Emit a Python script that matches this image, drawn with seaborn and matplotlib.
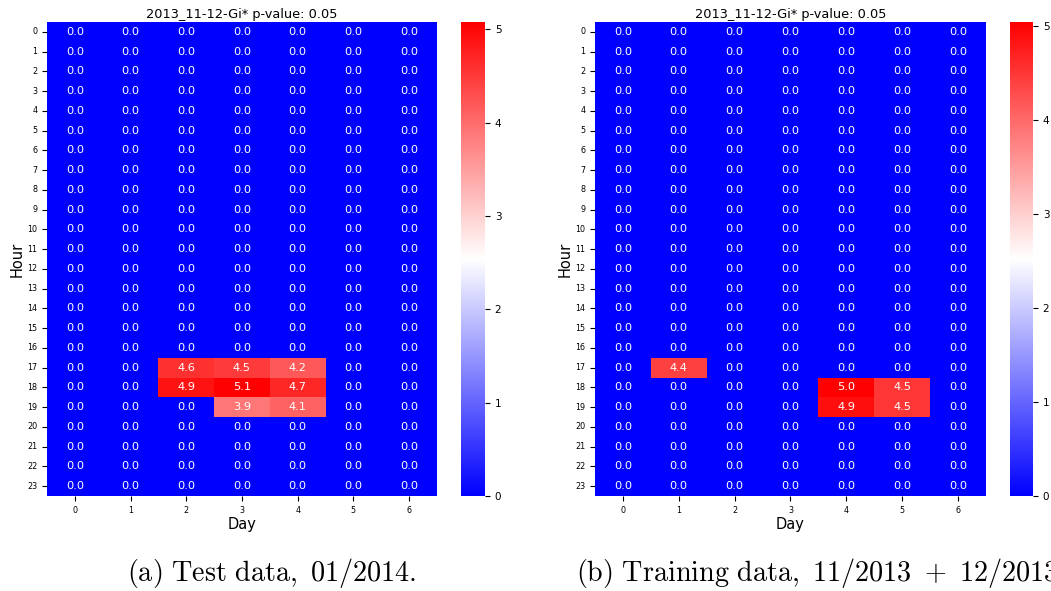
import numpy as np
import pandas as pd
import matplotlib
matplotlib.use("Agg")
import matplotlib.pyplot as plt
import seaborn as sns

plt.rcParams['mathtext.fontset'] = 'cm'

hours = list(range(24))
days = list(range(7))

title_a = "2013_11-12-Gi* p-value: 0.05"
title_b = "2013_11-12-Gi* p-value: 0.05"
caption_a = r"$\mathrm{(a)\ Test\ data,\ 01/2014.}$"
caption_b = r"$\mathrm{(b)\ Training\ data,\ 11/2013\ +\ 12/2013.}$"

# Non-zero cells (hour, day, value); all other cells are 0.0
test_hours = [17, 17, 17, 18, 18, 18, 19, 19]
test_days = [2, 3, 4, 2, 3, 4, 3, 4]
test_vals = [4.6, 4.5, 4.2, 4.9, 5.08, 4.7, 3.9, 4.1]

train_hours = [17, 18, 18, 19, 19]
train_days = [1, 4, 5, 4, 5]
train_vals = [4.4, 5.04, 4.5, 4.9, 4.5]


def build(hs, ds, vs):
    m = np.zeros((len(hours), len(days)))
    for h, d, v in zip(hs, ds, vs):
        m[h, d] = v
    return pd.DataFrame(m, index=hours, columns=days)


test_df = build(test_hours, test_days, test_vals)
train_df = build(train_hours, train_days, train_vals)

W, H = 1051, 591
fig = plt.figure(figsize=(W / 100, H / 100), dpi=100)


def frac(x0, x1, y0, y1):
    return [x0 / W, (H - y1) / H, (x1 - x0) / W, (y1 - y0) / H]


panels = [
    (test_df, title_a, caption_a, frac(47, 437, 22, 496), frac(461, 485, 22, 496), 127),
    (train_df, title_b, caption_b, frac(595, 986, 22, 496), frac(1010, 1033, 22, 496), 576),
]

for df, title, caption, axpos, caxpos, capx in panels:
    ax = fig.add_axes(axpos)
    cax = fig.add_axes(caxpos)
    sns.heatmap(df, ax=ax, cbar_ax=cax, cmap="bwr", annot=True, fmt=".1f",
                annot_kws={"fontsize": 8.2})
    ax.set_title(title, fontsize=9.3, pad=3)
    ax.set_xlabel("Day", fontsize=10.5, labelpad=2)
    ax.set_ylabel("Hour", fontsize=10.5, labelpad=2)
    ax.tick_params(axis="both", labelsize=5.8)
    plt.setp(ax.get_yticklabels(), rotation=0)
    plt.setp(ax.get_xticklabels(), rotation=0)
    cax.tick_params(labelsize=7.5)
    cax.set_yticks([0, 1, 2, 3, 4, 5])
    fig.text(capx / W, 1 - 581 / H, caption, fontsize=20.3, ha="left", va="baseline")

fig.savefig("out.png", dpi=100)
